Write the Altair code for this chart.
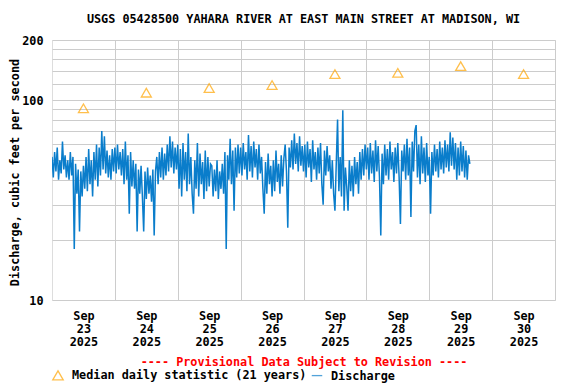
import altair as alt
import pandas as pd

FONT = "DejaVu Sans Mono"
FS = 11.8

# ---------------- data ----------------
label_days = [23, 24, 25, 26, 27, 28, 29, 30]
median_values = [91, 109, 115, 119, 135, 137, 148, 135]
median_series = "Median daily statistic (21 years)"
discharge_series = "Discharge"

# half-hourly discharge (cfs)
sep23 = [52, 41, 55, 44, 58, 40, 50, 43, 62, 45, 53, 41,
         50, 40, 55, 42, 52, 18,
         48, 34, 45, 22, 44, 33, 47, 36,
         52, 35, 57, 38, 50, 33, 55, 40, 60, 37,
         58, 42, 70, 45, 66, 43,
         56, 41, 53, 40, 57, 44]
sep24 = [58, 43, 60, 45, 55, 42,
         57, 38, 62, 40, 53, 27, 55, 37, 50,
         36, 48, 22, 45, 34, 47, 33, 22, 44, 32, 46, 34, 42, 31, 45,
         21, 44, 52, 38, 55, 41, 58, 40, 54, 42, 60, 44, 66, 46, 62, 43, 58, 45]
sep25 = [60, 36, 57, 33, 61, 40, 55, 35, 68, 38,
         52, 34, 27, 50, 36, 61, 33, 54, 38, 49, 32, 56, 35, 52, 37, 48,
         47, 33, 45, 35, 50, 32, 44, 36, 48, 34,
         55, 18, 53, 40, 64, 38, 56, 28, 58, 41, 60, 43]
sep26 = [58, 42, 61, 45, 55, 40, 67, 44, 59, 41, 62, 46, 57, 40, 60, 43,
         52, 36, 27, 49, 34, 54, 38, 47, 33, 50, 35, 56, 39, 48, 34, 53, 37, 51,
         60, 44, 23, 58, 46, 63, 45, 68, 48, 61, 44, 66, 47, 59]
sep27 = [44, 60, 41, 62, 46, 57, 39, 63, 45, 55, 40, 58, 43, 61, 38, 30, 56, 42, 59, 44, 53,
         36, 50, 34, 28, 48, 80, 35, 52, 33, 89, 28, 46, 37, 28, 50, 35, 47, 33, 52,
         38, 49, 34, 55, 40, 57, 42, 60]
sep28 = [45, 58, 40, 61, 43, 56, 39, 63, 44, 59, 41, 21, 54, 38, 60, 42, 57, 40, 62, 45,
         55, 39, 58, 43, 61, 41, 24, 56, 44,
         60, 40, 64, 42, 58, 26, 62, 44, 70, 75, 41, 60, 38, 66, 43, 58, 39, 61, 42]
sep29 = [52, 27, 55, 42, 60, 44, 57, 41, 62, 45, 58, 43, 63, 46, 60, 44,
         69, 47, 65, 45, 61, 40, 58, 42, 62, 44, 59, 41, 56, 40, 53, 48]

discharge = sep23 + sep24 + sep25 + sep26 + sep27 + sep28 + sep29
times = pd.date_range("2025-09-23 00:00:00", periods=len(discharge), freq="30min")

df_q = pd.DataFrame({
    "time": times.strftime("%Y-%m-%dT%H:%M:%S"),
    "value": discharge,
    "series": discharge_series,
})
df_m = pd.DataFrame({
    "time": [f"2025-09-{d:02d}T12:00:00" for d in label_days],
    "value": median_values,
    "series": median_series,
})

# ---------------- scales / axes ----------------
x_scale = alt.Scale(domain=[alt.DateTime(year=2025, month=9, date=23, hours=0),
                            alt.DateTime(year=2025, month=10, date=1, hours=0)])
y_scale = alt.Scale(type="log", domain=[10, 200], nice=False)

midnights = [alt.DateTime(year=2025, month=9, date=d, hours=0) for d in range(24, 31)] + \
            [alt.DateTime(year=2025, month=10, date=1, hours=0)]
noons = [alt.DateTime(year=2025, month=9, date=d, hours=12) for d in label_days]

y_axis = alt.Axis(
    values=[10, 20, 30, 40, 50, 60, 70, 80, 90, 100, 120, 140, 160, 180, 200],
    labelExpr="indexof([10,100,200], datum.value) >= 0 ? format(datum.value, 'd') : ''",
    grid=True, gridColor="#cccccc", gridWidth=1,
    ticks=False, domain=False, labelPadding=9,
    labelFont=FONT, labelFontSize=FS, labelFontWeight="bold", labelColor="black",
    title="Discharge, cubic feet per second",
    titleFont=FONT, titleFontSize=FS, titleFontWeight="bold", titleColor="black",
    titleAngle=270, titleX=-38, titleY=132, titleAlign="center", titleBaseline="middle",
)

color_scale = alt.Scale(domain=[median_series, discharge_series], range=["#ffa500", "#0a7dcb"])
shape_scale = alt.Scale(domain=[median_series, discharge_series], range=["triangle-up", "stroke"])

legend = alt.Legend(
    title=None, orient="none", legendX=0, legendY=329, direction="horizontal",
    labelFont=FONT, labelFontSize=FS, labelFontWeight="bold", labelColor="black",
    labelLimit=0, symbolSize=110, symbolStrokeWidth=1.3, labelOffset=8,
    columnPadding=2, padding=0,
)

line = alt.Chart(df_q).mark_line(strokeWidth=1.5, clip=True).encode(
    x=alt.X("time:T", scale=x_scale,
            axis=alt.Axis(values=midnights, grid=True, gridColor="#cccccc", labels=False,
                          ticks=False, domain=False, title=None, orient="bottom")),
    y=alt.Y("value:Q", scale=y_scale, axis=y_axis),
    color=alt.Color("series:N", scale=color_scale, legend=legend),
)

points = alt.Chart(df_m).mark_point(filled=False, size=100, strokeWidth=1.3).encode(
    x=alt.X("time:T", scale=x_scale,
            axis=alt.Axis(values=noons, grid=False, ticks=False, domain=False, orient="bottom",
                          labelExpr="[timeFormat(datum.value, '%b'), timeFormat(datum.value, '%d'), timeFormat(datum.value, '%Y')]",
                          labelLineHeight=13, labelPadding=10,
                          labelFont=FONT, labelFontSize=FS, labelFontWeight="bold", labelColor="black",
                          title="---- Provisional Data Subject to Revision ----",
                          titleFont=FONT, titleFontSize=FS, titleFontWeight="bold", titleColor="#ff0000",
                          titleX=251.5, titleY=61, titleAlign="center", titleBaseline="middle")),
    y=alt.Y("value:Q", scale=y_scale, axis=y_axis),
    color=alt.Color("series:N", scale=color_scale, legend=legend),
    shape=alt.Shape("series:N", scale=shape_scale, legend=legend),
)

chart = alt.layer(line, points).resolve_axis(x="independent").properties(
    width=503, height=260,
    autosize=alt.AutoSizeParams(type="none"),
    padding={"left": 44, "top": 32, "right": 13, "bottom": 84},
    title=alt.Title("USGS 05428500 YAHARA RIVER AT EAST MAIN STREET AT MADISON, WI",
                    font=FONT, fontSize=FS, fontWeight="bold", color="black",
                    anchor="middle", offset=9),
).configure_view(stroke="black", strokeWidth=1).configure(background="white")

chart.save("out.html", embed_options={"renderer": "svg", "actions": False})
